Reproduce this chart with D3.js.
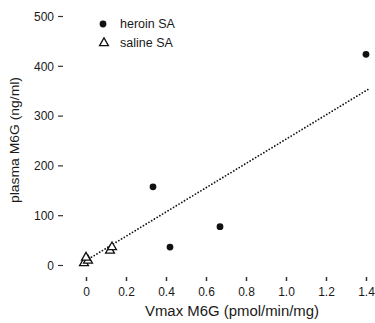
<!DOCTYPE html>
<html><head><meta charset="utf-8">
<script src="https://cdn.jsdelivr.net/npm/d3@7"></script>
<style>
html,body{margin:0;padding:0;background:#fff;}
svg text{font-family:"Liberation Sans",Arial,Helvetica,sans-serif;fill:#1a1a1a;}
</style></head>
<body><svg id="c" width="375" height="323"></svg>
<script>
const heroinX = [1.40, 0.335, 0.67, 0.42];
const heroinY = [423, 157, 77, 36];
const salineX = [-0.01, 0.01, 0.0, 0.12, 0.13];
const salineY = [4, 9, 15, 29, 36];
const fitX = [0.0, 1.42];
const fitY = [9, 355];
const xTicks = [0, 0.2, 0.4, 0.6, 0.8, 1.0, 1.2, 1.4];
const xTickLabels = ["0", "0.2", "0.4", "0.6", "0.8", "1.0", "1.2", "1.4"];
const yTicks = [0, 100, 200, 300, 400, 500];
const legendLabels = ["heroin SA", "saline SA"];

const svg = d3.select("#c");
const x = d3.scaleLinear().domain([0, 1.4]).range([86, 366]);
const y = d3.scaleLinear().domain([0, 500]).range([265, 16]);

// Y axis
const ya = svg.append("g").attr("transform", "translate(63,0)")
  .call(d3.axisLeft(y).tickValues(yTicks).tickSize(5).tickPadding(4));
ya.select(".domain").remove();
ya.selectAll(".tick line").attr("stroke", "#333").attr("stroke-width", 1.2);
ya.selectAll(".tick text").style("font-size", "12px").attr("dy", "0.35em");

// X axis
const xa = svg.append("g").attr("transform", "translate(0,277)")
  .call(d3.axisBottom(x).tickValues(xTicks).tickFormat((d, i) => xTickLabels[i]).tickSize(4).tickPadding(6));
xa.select(".domain").remove();
xa.selectAll(".tick line").attr("stroke", "#333").attr("stroke-width", 1.5);
xa.selectAll(".tick text").style("font-size", "12px");

// Titles
svg.append("text").attr("x", 232).attr("y", 316).attr("text-anchor", "middle")
  .style("font-size", "14px").attr("textLength", 174).attr("lengthAdjust", "spacingAndGlyphs")
  .text("Vmax M6G (pmol/min/mg)");
svg.append("text").attr("transform", "translate(19,140) rotate(-90)").attr("text-anchor", "middle")
  .style("font-size", "13px").attr("textLength", 126).attr("lengthAdjust", "spacingAndGlyphs")
  .text("plasma M6G (ng/ml)");

// Fit line
svg.append("path")
  .datum(fitX.map((d, i) => [d, fitY[i]]))
  .attr("d", d3.line().x(d => x(d[0])).y(d => y(d[1])))
  .attr("fill", "none").attr("stroke", "#111").attr("stroke-width", 1.8)
  .attr("stroke-linecap", "round").attr("stroke-dasharray", "0,3.2");

const tri = d3.symbol().type(d3.symbolTriangle).size(34);
const circ = d3.symbol().type(d3.symbolCircle).size(36);

// Saline triangles
svg.append("g").selectAll("path").data(salineX.map((d, i) => [d, salineY[i]])).join("path")
  .attr("d", tri).attr("transform", d => `translate(${x(d[0])},${y(d[1])})`)
  .attr("fill", "#fff").attr("stroke", "#111").attr("stroke-width", 1.3);

// Heroin filled
svg.append("g").selectAll("path").data(heroinX.map((d, i) => [d, heroinY[i]])).join("path")
  .attr("d", circ).attr("transform", d => `translate(${x(d[0])},${y(d[1])})`)
  .attr("fill", "#111");

// Legend
svg.append("path").attr("d", circ).attr("transform", "translate(103,24)").attr("fill", "#111");
svg.append("path").attr("d", tri).attr("transform", "translate(104,43)")
  .attr("fill", "#fff").attr("stroke", "#111").attr("stroke-width", 1.3);
legendLabels.forEach((t, i) => {
  svg.append("text").attr("x", 120).attr("y", 24 + i * 19).attr("dy", "0.35em")
    .style("font-size", "12.5px").text(t);
});
</script></body></html>
